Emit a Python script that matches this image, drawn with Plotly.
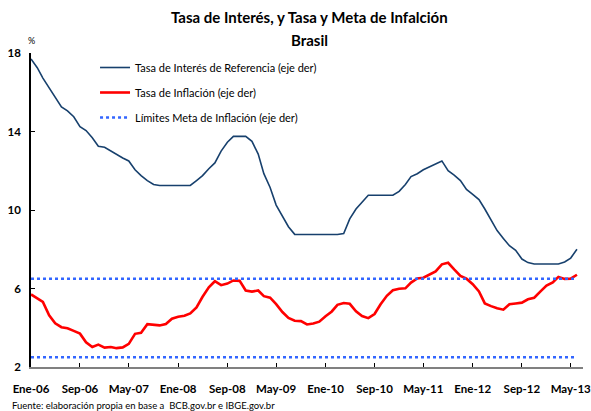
import pandas as pd
import plotly.graph_objects as go

# ---- data ----
start_month = "2006-01-01"
tasa_interes = [
    17.70, 17.25, 16.72, 16.20, 15.72, 15.25, 15.05, 14.75, 14.25, 14.05, 13.68, 13.25,
    13.20, 13.00, 12.82, 12.65, 12.50, 12.05, 11.75, 11.50, 11.30, 11.25, 11.25, 11.25,
    11.25, 11.25, 11.25, 11.50, 11.75, 12.10, 12.40, 13.00, 13.45, 13.75, 13.75, 13.75,
    13.50, 12.85, 11.85, 11.15, 10.25, 9.65, 9.15, 8.76, 8.75, 8.75, 8.75, 8.75,
    8.75, 8.75, 8.75, 8.80, 9.55, 10.05, 10.40, 10.75, 10.75, 10.75, 10.75, 10.75,
    10.95, 11.30, 11.70, 11.85, 12.05, 12.20, 12.35, 12.50, 12.00, 11.78, 11.50, 11.05,
    10.80, 10.53, 10.05, 9.50, 8.95, 8.55, 8.18, 7.95, 7.50, 7.32, 7.25, 7.25,
    7.25, 7.25, 7.25, 7.35, 7.55, 8.00,
]
tasa_inflacion = [
    5.70, 5.51, 5.32, 4.63, 4.23, 4.03, 3.97, 3.84, 3.70, 3.26, 3.02, 3.14,
    2.99, 3.02, 2.96, 3.00, 3.18, 3.69, 3.74, 4.18, 4.15, 4.12, 4.19, 4.46,
    4.56, 4.61, 4.73, 5.04, 5.58, 6.06, 6.37, 6.17, 6.25, 6.41, 6.39, 5.90,
    5.84, 5.90, 5.61, 5.53, 5.20, 4.80, 4.50, 4.36, 4.34, 4.17, 4.22, 4.31,
    4.59, 4.83, 5.17, 5.26, 5.22, 4.84, 4.60, 4.49, 4.70, 5.20, 5.63, 5.91,
    5.99, 6.01, 6.30, 6.51, 6.55, 6.71, 6.87, 7.23, 7.31, 6.97, 6.64, 6.50,
    6.22, 5.85, 5.24, 5.10, 4.99, 4.92, 5.20, 5.24, 5.28, 5.45, 5.53, 5.84,
    6.15, 6.31, 6.59, 6.49, 6.50, 6.70,
]
meta_superior = 6.5
meta_inferior = 2.5
tick_dates = ["2006-01-01", "2006-09-01", "2007-05-01", "2008-01-01", "2008-09-01", "2009-05-01",
              "2010-01-01", "2010-09-01", "2011-05-01", "2012-01-01", "2012-09-01", "2013-05-01"]
tick_labels = ["Ene-06", "Sep-06", "May-07", "Ene-08", "Sep-08", "May-09",
               "Ene-10", "Sep-10", "May-11", "Ene-12", "Sep-12", "May-13"]
y_ticks = [2, 6, 10, 14, 18]

titulo_1 = "Tasa de Interés, y Tasa y Meta de Infalción"
titulo_2 = "Brasil"
fuente = "Fuente: elaboración propia en base a  BCB.gov.br e IBGE.gov.br"

fechas = pd.date_range(start_month, periods=len(tasa_interes), freq="MS")

FONT = "Lato"

fig = go.Figure()
fig.add_trace(go.Scatter(
    x=fechas, y=tasa_interes, mode="lines",
    name="Tasa de Interés de Referencia (eje der)",
    line=dict(color="#17406D", width=1.6), legendgroup="a",
))
fig.add_trace(go.Scatter(
    x=fechas, y=tasa_inflacion, mode="lines",
    name="Tasa de Inflación (eje der)",
    line=dict(color="#FF0000", width=2.6), legendgroup="b",
))
meta_x = list(fechas) + [None] + list(fechas)
meta_y = [meta_superior] * len(fechas) + [None] + [meta_inferior] * len(fechas)
fig.add_trace(go.Scatter(
    x=meta_x, y=meta_y, mode="lines",
    name="Límites Meta de Inflación (eje der)",
    line=dict(color="#3366FF", width=2.5, dash="dot"), legendgroup="c",
    connectgaps=False,
))

fig.update_layout(
    width=591, height=411,
    margin=dict(l=31, r=8, t=53, b=44, autoexpand=False),
    paper_bgcolor="white", plot_bgcolor="white",
    font=dict(family=FONT, color="#000000", size=11),
    showlegend=True,
    legend=dict(
        x=0.116, xanchor="left", y=1.0, yanchor="top",
        bgcolor="rgba(0,0,0,0)", font=dict(size=11, family=FONT),
        tracegroupgap=6, traceorder="grouped",
    ),
    xaxis=dict(
        type="date",
        range=["2006-01-01", "2013-07-01"],
        tickvals=tick_dates, ticktext=tick_labels,
        ticks="inside", ticklen=4, tickcolor="#000000",
        showline=True, linecolor="#808080", linewidth=2,
        showgrid=False, zeroline=False, automargin=False,
        tickfont=dict(size=11.5, family=FONT, color="#000000", weight="bold"),
        ticklabelstandoff=10, ticklabeloverflow="allow",
    ),
    yaxis=dict(
        range=[2, 18],
        tickvals=y_ticks,
        ticks="inside", ticklen=4, tickcolor="#000000",
        showline=True, linecolor="#000000", linewidth=1.5,
        showgrid=False, zeroline=False, automargin=False,
        tickfont=dict(size=11.5, family=FONT, color="#000000", weight="bold"),
        ticklabelstandoff=6,
    ),
    annotations=[
        dict(text="<b>" + titulo_1 + "</b>", xref="paper", yref="paper",
             x=0.505, y=1.0, yshift=36, xanchor="center", yanchor="middle",
             showarrow=False, font=dict(size=15, family=FONT)),
        dict(text="<b>" + titulo_2 + "</b>", xref="paper", yref="paper",
             x=0.505, y=1.0, yshift=13, xanchor="center", yanchor="middle",
             showarrow=False, font=dict(size=15, family=FONT)),
        dict(text="%", xref="paper", yref="paper", x=0.0, y=1.0, yshift=13,
             xanchor="center", yanchor="middle", showarrow=False,
             font=dict(size=9, family=FONT)),
        dict(text=fuente,
             xref="paper", yref="paper", x=-0.038, y=0, yshift=-38,
             xanchor="left", yanchor="middle", showarrow=False,
             font=dict(size=9.5, family=FONT)),
    ],
)

fig.write_html("out.html", config={"displayModeBar": False},
               post_script="document.body.style.margin='0px';")
